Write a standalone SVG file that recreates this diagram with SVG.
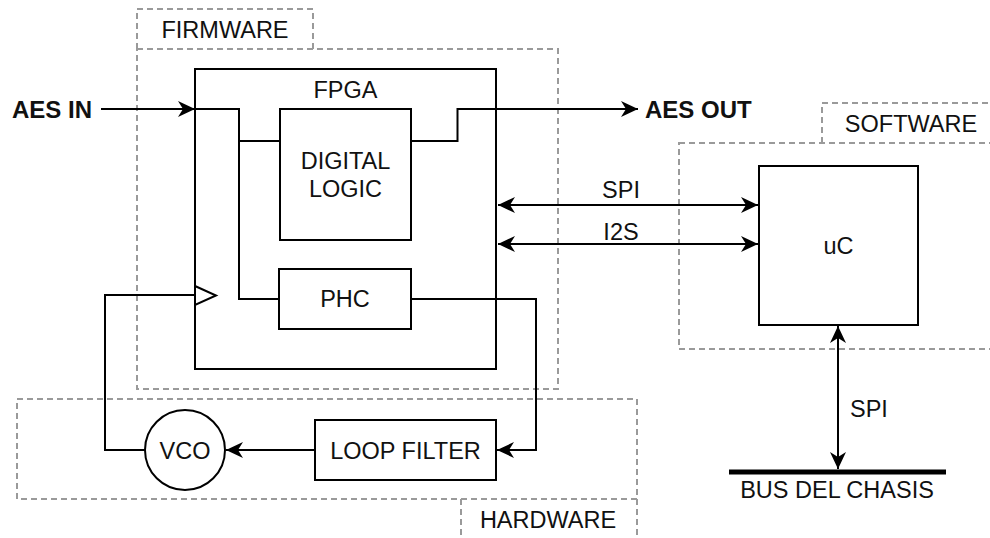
<svg xmlns="http://www.w3.org/2000/svg" width="990" height="538" viewBox="0 0 990 538">
<style>
.dash{fill:none;stroke:#9a9a9a;stroke-width:2;stroke-dasharray:6 4}
.box{fill:#fff;stroke:#000;stroke-width:2}
.ln{fill:none;stroke:#000;stroke-width:2}
text{font-family:"Liberation Sans",Arial,sans-serif;font-size:23.5px;fill:#111;text-anchor:middle}
.b{font-weight:bold;font-size:24px;text-anchor:start}
</style>
<defs>
<marker id="ah" markerUnits="userSpaceOnUse" markerWidth="20" markerHeight="20" viewBox="-18 -10 20 20" refX="0" refY="0" orient="auto-start-reverse">
<path d="M0,0 L-17,-8 L-12,0 L-17,8 Z" fill="#000"/>
</marker>
</defs>
<rect width="990" height="538" fill="#fff"/>
<g id="zones">
<path class="dash" d="M137,49 V9 H313 V49"/>
<rect class="dash" x="137" y="49" width="421" height="340"/>
<path class="dash" d="M822,143 V103 H1000"/>
<rect class="dash" x="679" y="143" width="330" height="206"/>
<rect class="dash" x="17" y="399" width="620" height="100"/>
<path class="dash" d="M461,499 V545 M637,499 V545"/>
</g>
<g id="fpga"><rect class="box" x="195" y="69" width="301" height="300"/><text x="345.5" y="98">FPGA</text></g>
<g id="digital-logic"><rect class="box" x="280" y="109" width="131" height="131"/><text x="345.5" y="169.3">DIGITAL</text><text x="345.5" y="196.7">LOGIC</text></g>
<g id="phc"><rect class="box" x="279" y="269" width="132" height="60"/><text x="345" y="306.7">PHC</text></g>
<g id="uc"><rect class="box" x="759" y="166" width="159" height="159"/><text x="838.5" y="254">uC</text></g>
<g id="loop-filter"><rect class="box" x="315" y="420" width="181" height="60"/><text x="405.5" y="459">LOOP FILTER</text></g>
<g id="vco"><circle class="box" cx="185" cy="450" r="40"/><text x="185" y="459">VCO</text></g>
<g id="bus"><line x1="729" y1="472" x2="946" y2="472" stroke="#000" stroke-width="5"/><text x="837" y="497.7">BUS DEL CHASIS</text></g>
<g id="labels">
<text x="225" y="38">FIRMWARE</text>
<text x="911" y="131.7">SOFTWARE</text>
<text x="548" y="528">HARDWARE</text>
<text class="b" x="12" y="118.3">AES IN</text>
<text class="b" x="645" y="118.3">AES OUT</text>
</g>
<g id="connectors">
<line class="ln" x1="101" y1="109" x2="195" y2="109" marker-end="url(#ah)"/>
<path class="ln" d="M195,109 H239 V299 H279 M239,141 H280"/>
<path class="ln" d="M411,141 H457.5 V109 H638" marker-end="url(#ah)"/>
<line class="ln" x1="498" y1="205" x2="758" y2="205" marker-start="url(#ah)" marker-end="url(#ah)"/>
<text x="621" y="197.7">SPI</text>
<line class="ln" x1="498" y1="244" x2="758" y2="244" marker-start="url(#ah)" marker-end="url(#ah)"/>
<text x="621" y="240">I2S</text>
<path class="ln" d="M411,299 H536 V450 H497" marker-end="url(#ah)"/>
<line class="ln" x1="315" y1="450" x2="226" y2="450" marker-end="url(#ah)"/>
<path class="ln" d="M145,450 H105 V295 H195"/>
<path d="M195,286 L216,295.5 L195,305 Z" fill="#fff" stroke="#000" stroke-width="2"/>
<line class="ln" x1="838" y1="326" x2="838" y2="469" marker-start="url(#ah)" marker-end="url(#ah)"/>
<text x="850" y="416.7" style="text-anchor:start">SPI</text>
</g>
</svg>
